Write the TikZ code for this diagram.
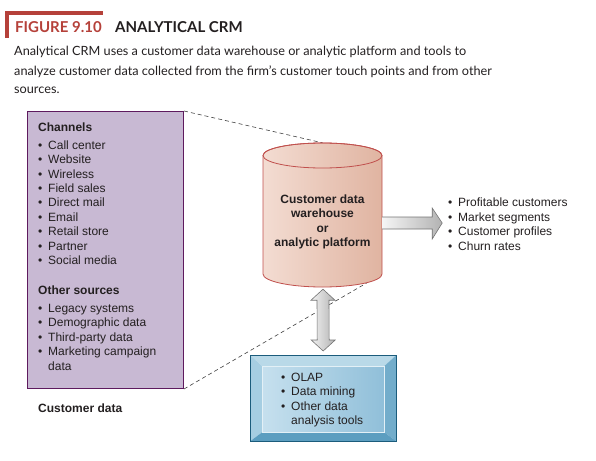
\documentclass[tikz,border=0pt]{standalone}
\usepackage{fontspec}
\setmainfont{Liberation Sans}
\newfontfamily\capfont{Lato}
\usetikzlibrary{calc}
\definecolor{figred}{HTML}{B5413A}
\definecolor{srcfill}{HTML}{C8B9D3}
\definecolor{srcborder}{HTML}{5E1A5E}
\definecolor{cylL}{HTML}{F3DCD2}
\definecolor{cylR}{HTML}{E0B4A1}
\definecolor{cylB}{HTML}{C0504D}
\definecolor{bvTop}{HTML}{B9D9E8}
\definecolor{bvLeft}{HTML}{A6CEE2}
\definecolor{bvRight}{HTML}{73ADCB}
\definecolor{bvBottom}{HTML}{5C9EC0}
\definecolor{inL}{HTML}{C6E0EE}
\definecolor{inR}{HTML}{90BFD9}
\definecolor{toolB}{HTML}{1B5C7C}
\definecolor{txtc}{HTML}{231F20}
\newcommand{\bul}{\makebox[10pt][l]{\textbullet}}
\begin{document}
\begin{tikzpicture}[x=1pt,y=-1pt,
  txt/.style={font=\fontsize{12}{14.4}\selectfont, text=txtc, inner sep=0pt, align=left},
  captxt/.style={anchor=base west, inner sep=0pt, font=\capfont\fontsize{12.7}{18}\selectfont, text=txtc},
  dashedline/.style={draw=black!75, dash pattern=on 4pt off 3pt, line width=0.6pt},
  bigarrow/.style={draw=black!55, line width=0.6pt, line join=miter}]
\useasboundingbox (0,0) rectangle (596,460);

% ---------- heading ----------
\draw[figred, line width=3.5pt, line join=miter] (7,38) -- (7,13) -- (103,13);
\node[anchor=base west, inner sep=0pt, font=\capfont\bfseries\fontsize{15}{18}\selectfont, text=figred] (fig) at (15,33) {FIGURE 9.10};
\node[anchor=base west, inner sep=0pt, font=\capfont\bfseries\fontsize{15}{18}\selectfont, text=txtc] (title) at (115,33) {ANALYTICAL CRM};
\node[captxt] (cap1) at (14,56) {Analytical CRM uses a customer data warehouse or analytic platform and tools to};
\node[captxt] (cap2) at (14,75) {analyze customer data collected from the firm’s customer touch points and from other};
\node[captxt] (cap3) at (14,93) {sources.};

% ---------- geometry nodes ----------
\node[draw=none, minimum width=119pt, minimum height=144pt, inner sep=0pt] (wh) at (322.5,215) {};
\node[draw=none, minimum width=146pt, minimum height=86pt, inner sep=0pt, anchor=north west] (tools) at (250,355) {};

% ---------- source box ----------
\node[draw=srcborder, fill=srcfill, line width=1pt, minimum width=156pt, minimum height=277pt, anchor=north west, inner sep=0pt] (src) at (27,111) {};
\node[txt, anchor=north west] (srclist) at (38,123) {\textbf{Channels}\\[3pt]
\bul Call center\\
\bul Website\\
\bul Wireless\\
\bul Field sales\\
\bul Direct mail\\
\bul Email\\
\bul Retail store\\
\bul Partner\\
\bul Social media\\[15.6pt]
\textbf{Other sources}\\[3.6pt]
\bul Legacy systems\\
\bul Demographic data\\
\bul Third-party data\\
\bul Marketing campaign\\
\hspace*{10pt}data};
\node[txt, anchor=base west, font=\bfseries\fontsize{12}{14.4}\selectfont] (cdlabel) at (38,412) {Customer data};

% ---------- dashed lines ----------
\coordinate (cylpt) at ($(wh.south)+(44.5,-4.4)$);
\draw[dashedline] (src.north east) -- (wh.north);
\draw[dashedline] (src.south east) -- (cylpt);

% ---------- cylinder ----------
\path[shade, left color=cylL, right color=cylR, draw=cylB, line width=0.8pt]
  (263,155.5) -- (263,274) arc[start angle=180, end angle=360, x radius=59.5pt, y radius=13pt]
  -- (382,155.5) arc[start angle=0, end angle=180, x radius=59.5pt, y radius=12.5pt] -- cycle;
\draw[cylB, line width=0.8pt] (322.5,155.5) ellipse[x radius=59.5pt, y radius=12.5pt];
\node[txt, align=center, font=\bfseries\fontsize{12}{14.5}\selectfont] (whtext) at (322.5,222) {Customer data\\warehouse\\or\\analytic platform};

% ---------- right arrow ----------
\coordinate (ha) at ($(wh.east)+(0,8)$);
\path[left color=gray!8, right color=gray!60]
  ($(ha)+(0,-6)$) -- ($(ha)+(50,-6)$) -- ($(ha)+(50,-15)$) -- ($(ha)+(60,0)$)
  -- ($(ha)+(50,16)$) -- ($(ha)+(50,6)$) -- ($(ha)+(0,6)$) -- cycle;
\draw[bigarrow]
  ($(ha)+(0,-6)$) -- ($(ha)+(50,-6)$) -- ($(ha)+(50,-15)$) -- ($(ha)+(60,0)$)
  -- ($(ha)+(50,16)$) -- ($(ha)+(50,6)$) -- ($(ha)+(0,6)$);

\node[txt, anchor=north west] (out) at (448,198) {\bul Profitable customers\\
\bul Market segments\\
\bul Customer profiles\\
\bul Churn rates};

% ---------- vertical double arrow ----------
\coordinate (vt) at ($(wh.south)+(0.5,2)$);
\coordinate (vb) at ($(tools.north)+(0,-4)$);
\path[bigarrow, left color=gray!10, right color=gray!60]
  (vt) -- ($(vt)+(12,11)$) -- ($(vt)+(6,11)$) -- ($(vb)+(6,-11)$) -- ($(vb)+(12,-11)$)
  -- (vb) -- ($(vb)+(-12,-11)$) -- ($(vb)+(-6,-11)$) -- ($(vt)+(-6,11)$) -- ($(vt)+(-12,11)$) -- cycle;

% ---------- tools box ----------
\coordinate (iNW) at ($(tools.north west)+(12,11)$);
\coordinate (iNE) at ($(tools.north east)+(-12,11)$);
\coordinate (iSE) at ($(tools.south east)+(-12,-9)$);
\coordinate (iSW) at ($(tools.south west)+(12,-9)$);
\fill[bvTop] (tools.north west) -- (tools.north east) -- (iNE) -- (iNW) -- cycle;
\fill[bvLeft] (tools.north west) -- (iNW) -- (iSW) -- (tools.south west) -- cycle;
\fill[bvRight] (tools.north east) -- (iNE) -- (iSE) -- (tools.south east) -- cycle;
\fill[bvBottom] (tools.south west) -- (iSW) -- (iSE) -- (tools.south east) -- cycle;
\path[left color=inL, right color=inR, draw=white!60!bvTop, line width=0.8pt] (iNW) rectangle (iSE);
\draw[toolB, line width=1pt] (tools.north west) rectangle (tools.south east);
\node[txt, anchor=north west] (toolslist) at (281,373) {\bul OLAP\\
\bul Data mining\\
\bul Other data\\
\hspace*{10pt}analysis tools};
\end{tikzpicture}
\end{document}
